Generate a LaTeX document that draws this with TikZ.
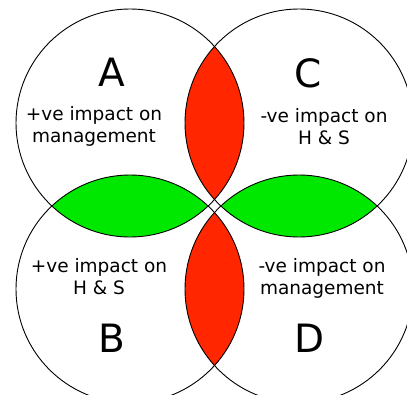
\documentclass[tikz,border=0pt]{standalone}
\usepackage{fontspec}
\setmainfont{DejaVu Sans}
\definecolor{lensred}{RGB}{255,38,0}
\definecolor{lensgreen}{RGB}{0,232,0}
\begin{document}
\begin{tikzpicture}[x=1pt,y=-1pt,
  ring/.style={draw=black,line width=0.9pt},
  bigletter/.style={font=\fontsize{39}{39}\selectfont,inner sep=0pt},
  caption/.style={font=\fontsize{18.5}{22}\selectfont,align=center,inner sep=0pt}]
\def\r{114}
\useasboundingbox (0,0) rectangle (407,394);
\fill[white] (0,0) rectangle (407,394);
\clip (0,0) rectangle (407,394);
% circle centres
\coordinate (cA) at (130,123);
\coordinate (cC) at (299,123);
\coordinate (cB) at (130,289);
\coordinate (cD) at (299,289);
% overlaps of horizontal neighbours (red)
\begin{scope}\clip (cA) circle (\r); \fill[lensred] (cC) circle (\r);\end{scope}
\begin{scope}\clip (cB) circle (\r); \fill[lensred] (cD) circle (\r);\end{scope}
% overlaps of vertical neighbours (green)
\begin{scope}\clip (cA) circle (\r); \fill[lensgreen] (cB) circle (\r);\end{scope}
\begin{scope}\clip (cC) circle (\r); \fill[lensgreen] (cD) circle (\r);\end{scope}
% outlines
\foreach \c in {cA,cB,cC,cD} \draw[ring] (\c) circle (\r);
% labels
\node[bigletter] (lA) at (112,72) {A};
\node[bigletter] (lC) at (308,73) {C};
\node[bigletter] (lB) at (112,338) {B};
\node[bigletter] (lD) at (310,338) {D};
\node[caption] (tA) at (94,126) {+ve impact on\\management};
\node[caption] (tC) at (324,127) {-ve impact on\\H \& S};
\node[caption] (tB) at (99,277) {+ve impact on\\H \& S};
\node[caption] (tD) at (322,278) {-ve impact on\\management};
\end{tikzpicture}
\end{document}
